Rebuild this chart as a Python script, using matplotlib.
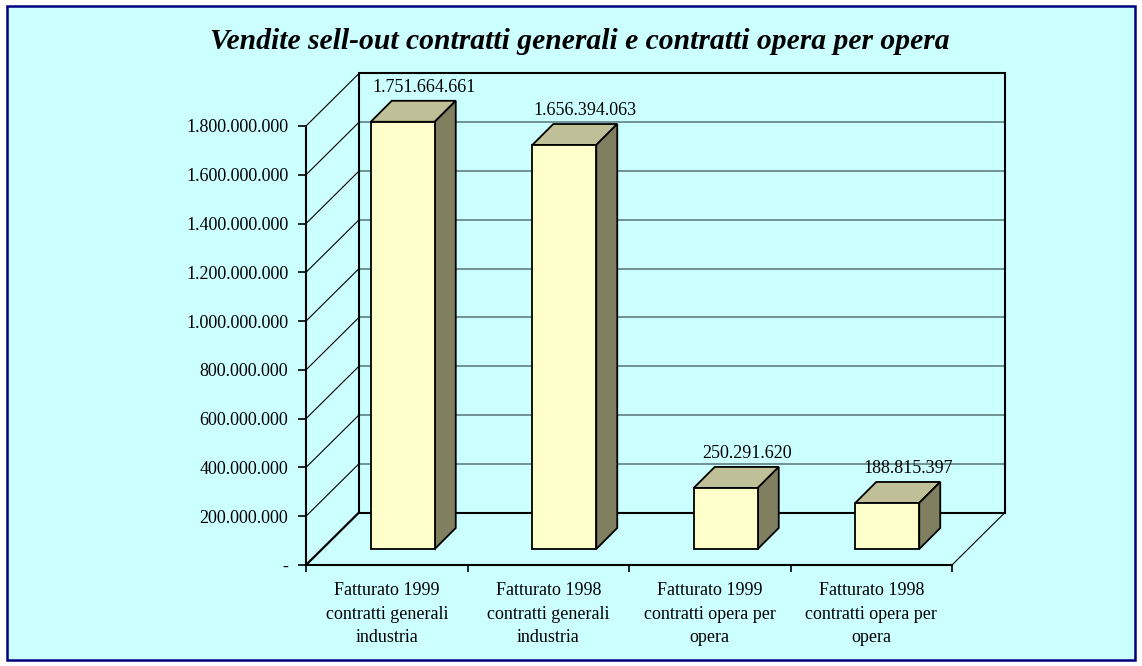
import matplotlib.pyplot as plt
from matplotlib.patches import Polygon, Rectangle

plt.rcParams['font.family'] = ['Liberation Serif', 'DejaVu Serif']

title = "Vendite sell-out contratti generali e contratti opera per opera"
categories = [
    "Fatturato 1999\ncontratti generali\nindustria",
    "Fatturato 1998\ncontratti generali\nindustria",
    "Fatturato 1999\ncontratti opera per\nopera",
    "Fatturato 1998\ncontratti opera per\nopera",
]
values = [1751664661, 1656394063, 250291620, 188815397]
value_labels = ["1.751.664.661", "1.656.394.063", "250.291.620", "188.815.397"]
y_ticks = [0, 200e6, 400e6, 600e6, 800e6, 1000e6, 1200e6, 1400e6, 1600e6, 1800e6]
y_tick_labels = ["-", "200.000.000", "400.000.000", "600.000.000", "800.000.000",
                 "1.000.000.000", "1.200.000.000", "1.400.000.000",
                 "1.600.000.000", "1.800.000.000"]

BG = "#CCFFFF"
FRONT = "#FFFFCC"
TOP = "#C0C098"
SIDE = "#808060"
GRID = "#5f7f7f"

W, H = 1142, 666
fig = plt.figure(figsize=(W / 100, H / 100), dpi=100, facecolor="white")
fig.patches.append(Rectangle((7 / W, 6 / H), 1128 / W, 654 / H, transform=fig.transFigure,
                             facecolor=BG, edgecolor="#000080", lw=1.8, zorder=-5))

ax = fig.add_axes([0, 0, 1, 1])
ax.patch.set_visible(False)

# pixel scale of the fake 3d box
px_cat = 161.5
px_val = 439 / y_ticks[-1]
x0, y0 = 306, 565
ax.set_xlim(-x0 / px_cat, (W - x0) / px_cat)
ax.set_ylim(-(H - y0) / px_val, y0 / px_val)

n = len(values)
ymax = y_ticks[-1]
DX, DY = 53 / px_cat, 52.5 / px_val      # depth of the box
BX0, BY0 = 16 / px_cat, 16 / px_val      # bar front offset
BDX, BDY = 21 / px_cat, 21 / px_val      # bar depth
BW = 64 / px_cat

# back wall + gridlines
ax.hlines([v + DY for v in y_ticks[1:-1]], DX, n + DX, color=GRID, lw=1.2, zorder=1)
ax.add_patch(Rectangle((DX, DY), n, ymax, fill=False, edgecolor="black", lw=1.5, zorder=2))
# side wall diagonals
for v in y_ticks:
    ax.plot([0, DX], [v, v + DY], color="black", lw=1.6 if v == 0 else 0.8, zorder=2)
ax.plot([n, n + DX], [0, DY], color="black", lw=0.8, zorder=2)

# bars
for i, v in enumerate(values):
    xc = i + 0.5 + BX0
    ax.bar(xc, v, width=BW, bottom=BY0, color=FRONT, edgecolor="black", lw=1.3, zorder=4)
    xl, xr, top = xc - BW / 2, xc + BW / 2, BY0 + v
    ax.add_patch(Polygon([(xl, top), (xr, top), (xr + BDX, top + BDY), (xl + BDX, top + BDY)],
                         facecolor=TOP, edgecolor="black", lw=1.3, zorder=3))
    ax.add_patch(Polygon([(xr, BY0), (xr + BDX, BY0 + BDY), (xr + BDX, top + BDY), (xr, top)],
                         facecolor=SIDE, edgecolor="black", lw=1.3, zorder=3))
    ax.annotate(value_labels[i], (xc + BDX, top + BDY), xytext=(0, 3.5), textcoords="offset points",
                ha="center", va="bottom", fontsize=13, zorder=6)

# front axes
for s in ("top", "right"):
    ax.spines[s].set_visible(False)
ax.spines["left"].set_position(("data", 0))
ax.spines["left"].set_bounds(0, ymax)
ax.spines["bottom"].set_position(("data", 0))
ax.spines["bottom"].set_bounds(0, n)
for s in ("left", "bottom"):
    ax.spines[s].set_linewidth(1.5)
    ax.spines[s].set_zorder(5)

ax.set_yticks(y_ticks, labels=y_tick_labels)
ax.tick_params(axis="y", direction="out", length=5.8, width=1.2, pad=7, labelsize=13)
ax.set_xticks(range(n + 1), labels=[""] * (n + 1))
ax.tick_params(axis="x", which="major", direction="out", length=5, width=1.2)
ax.set_xticks([i + 0.5 for i in range(n)], labels=categories, minor=True)
ax.tick_params(axis="x", which="minor", length=0, pad=12.5, labelsize=13)
for t in ax.get_xticklabels(minor=True):
    t.set_linespacing(1.5)

fig.text(580 / W, 1 - 49 / H, title, ha="center", va="baseline", fontsize=21.3,
         fontweight="bold", fontstyle="italic")

fig.savefig("out.png", dpi=100, facecolor="white")
